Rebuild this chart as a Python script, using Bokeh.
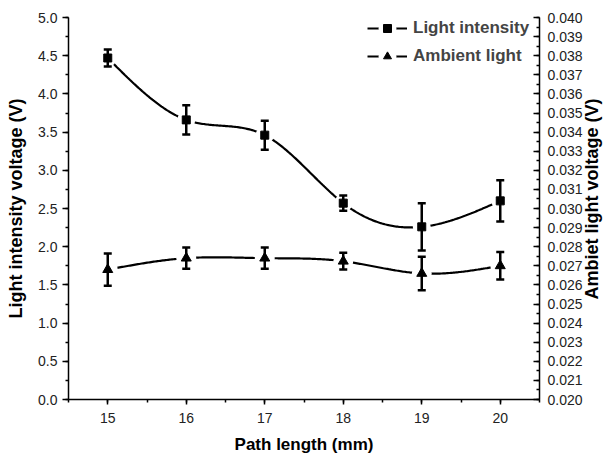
import numpy as np
from math import pi
from bokeh.plotting import figure
from bokeh.models import (Range1d, LinearAxis, SingleIntervalTicker, NumeralTickFormatter,
                          Legend, LegendItem)
from bokeh.embed import file_html
from bokeh.resources import INLINE

# ---- data ----
path_length = [15, 16, 17, 18, 19, 20]
light_intensity = [4.47, 3.66, 3.46, 2.57, 2.26, 2.60]
light_err = [0.11, 0.19, 0.19, 0.10, 0.31, 0.27]
ambient_light = [0.0268, 0.0274, 0.0274, 0.02724, 0.0266, 0.0270]
ambient_err = [0.00084, 0.00056, 0.00056, 0.00044, 0.00088, 0.00072]

FONT = "Liberation Sans"


def spline(xs, ys, n=300):
    xs = np.asarray(xs, float)
    ys = np.asarray(ys, float)
    N = len(xs)
    h = np.diff(xs)
    A = np.zeros((N, N))
    b = np.zeros(N)
    A[0, 0] = 1
    A[-1, -1] = 1
    for i in range(1, N - 1):
        A[i, i - 1] = h[i - 1]
        A[i, i] = 2 * (h[i - 1] + h[i])
        A[i, i + 1] = h[i]
        b[i] = 6 * ((ys[i + 1] - ys[i]) / h[i] - (ys[i] - ys[i - 1]) / h[i - 1])
    M = np.linalg.solve(A, b)
    xx = np.linspace(xs[0], xs[-1], n)
    idx = np.clip(np.searchsorted(xs, xx) - 1, 0, N - 2)
    x0 = xs[idx]
    x1 = xs[idx + 1]
    hh = x1 - x0
    t0 = x1 - xx
    t1 = xx - x0
    yy = (M[idx] * t0 ** 3 / (6 * hh) + M[idx + 1] * t1 ** 3 / (6 * hh)
          + (ys[idx] / hh - M[idx] * hh / 6) * t0 + (ys[idx + 1] / hh - M[idx + 1] * hh / 6) * t1)
    return xx, yy


p = figure(width=614, height=457, output_backend="svg", toolbar_location=None,
           x_range=Range1d(14.5, 20.5), y_range=Range1d(0, 5),
           min_border_left=68, min_border_right=72, min_border_top=17, min_border_bottom=58)
p.extra_y_ranges = {"amb": Range1d(0.020, 0.040)}
p.outline_line_color = None
p.xgrid.visible = False
p.ygrid.visible = False
p.background_fill_color = "white"
p.border_fill_color = "white"

# right axis
ra = LinearAxis(y_range_name="amb")
p.add_layout(ra, "right")


def style_axis(ax):
    ax.axis_line_width = 1.5
    ax.axis_line_color = "black"
    ax.major_tick_line_width = 1.5
    ax.minor_tick_line_width = 1.5
    ax.major_tick_line_color = "black"
    ax.minor_tick_line_color = "black"
    ax.major_label_text_font = FONT
    ax.major_label_text_font_size = "14px"
    ax.major_label_text_color = "#222222"
    ax.axis_label_text_font = FONT
    ax.axis_label_text_font_style = "bold"
    ax.axis_label_text_color = "black"


xa = p.xaxis[0]
la = p.yaxis[0]
for ax in (xa, la, ra):
    style_axis(ax)

xa.ticker = SingleIntervalTicker(interval=1, num_minor_ticks=2)
xa.major_tick_in = 0
xa.major_tick_out = 5
xa.minor_tick_in = 0
xa.minor_tick_out = 3
xa.major_label_standoff = 8
xa.axis_label = "Path length (mm)"
xa.axis_label_text_font_size = "17px"
xa.axis_label_standoff = 9

la.ticker = SingleIntervalTicker(interval=0.5, num_minor_ticks=2)
la.formatter = NumeralTickFormatter(format="0.0")
la.major_tick_in = 0
la.major_tick_out = 6
la.minor_tick_in = 0
la.minor_tick_out = 3
la.major_label_standoff = 5
la.axis_label = "Light intensity voltage (V)"
la.axis_label_text_font_size = "18px"
la.axis_label_standoff = 9

ra.ticker = SingleIntervalTicker(interval=0.001, num_minor_ticks=2)
ra.formatter = NumeralTickFormatter(format="0.000")
ra.major_tick_in = 6
ra.major_tick_out = 0
ra.minor_tick_in = 3
ra.minor_tick_out = 0
ra.major_label_standoff = 8
ra.axis_label = "\u00a0" * 20 + "Ambiet light voltage (V)"
ra.axis_label_text_font_size = "18px"
ra.axis_label_standoff = 6
ra.axis_label_orientation = pi / 2
ra.axis_label_align = "start"

# curves
sx1, sy1 = spline(path_length, light_intensity)
sx2, sy2 = spline(path_length, ambient_light)
c1 = p.line(sx1, sy1, line_color="black", line_width=2.2)
c2 = p.line(sx2, sy2, line_color="black", line_width=2.2, y_range_name="amb")

# gaps around symbols
g1 = p.scatter(path_length, light_intensity, size=8, marker="circle", fill_color="white",
               line_color="white", line_width=10)
g2 = p.scatter(path_length, ambient_light, size=10, marker="circle", fill_color="white",
               line_color="white", line_width=10, y_range_name="amb")

# error bars
l_lo = [v - e for v, e in zip(light_intensity, light_err)]
l_hi = [v + e for v, e in zip(light_intensity, light_err)]
a_lo = [v - e for v, e in zip(ambient_light, ambient_err)]
a_hi = [v + e for v, e in zip(ambient_light, ambient_err)]
p.segment(path_length, l_lo, path_length, l_hi, line_color="black", line_width=2.5)
p.scatter(path_length, l_lo, marker="dash", size=8, line_color="black", line_width=2.5)
p.scatter(path_length, l_hi, marker="dash", size=8, line_color="black", line_width=2.5)
p.segment(path_length, a_lo, path_length, a_hi, line_color="black", line_width=2.5, y_range_name="amb")
p.scatter(path_length, a_lo, marker="dash", size=8, line_color="black", line_width=2.5, y_range_name="amb")
p.scatter(path_length, a_hi, marker="dash", size=8, line_color="black", line_width=2.5, y_range_name="amb")

# markers
m1 = p.scatter(path_length, light_intensity, marker="square", size=8, fill_color="black", line_color="black")
m2 = p.scatter(path_length, ambient_light, marker="triangle", size=10, fill_color="black", line_color="black",
               y_range_name="amb")

legend = Legend(items=[LegendItem(label="Light intensity", renderers=[c1, g1, m1]),
                       LegendItem(label="Ambient light", renderers=[c2, g2, m2])],
                location=(299, 333), glyph_width=40, glyph_height=20, label_height=20,
                spacing=8, padding=0, margin=0, label_standoff=6,
                label_text_font=FONT, label_text_font_size="17px", label_text_font_style="bold",
                border_line_color=None, background_fill_alpha=0)
p.add_layout(legend, "center")

open("out.html", "w").write(file_html(p, INLINE))
